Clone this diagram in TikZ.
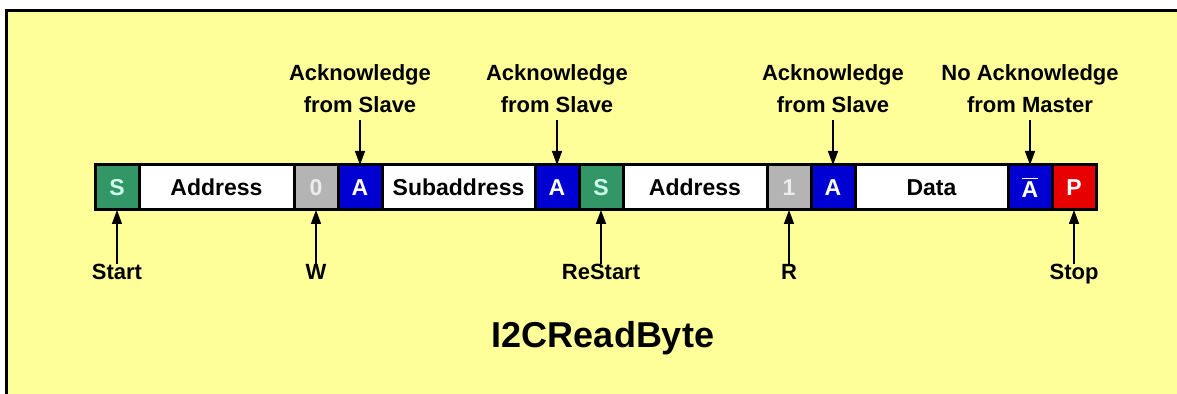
\documentclass[tikz,border=0pt]{standalone}
\usepackage{fontspec}
\setmainfont{Liberation Sans}
\usetikzlibrary{positioning, arrows.meta}
\definecolor{framebg}{RGB}{255,255,153}
\definecolor{startgreen}{RGB}{51,150,102}
\definecolor{mint}{RGB}{205,255,235}
\definecolor{ackblue}{RGB}{0,0,210}
\definecolor{stopred}{RGB}{230,0,0}
\definecolor{rwgray}{RGB}{180,180,180}

\begin{document}
\begin{tikzpicture}[
  x=0.5pt, y=-0.5pt,
  node distance=0pt,
  cell/.style={draw, line width=1.5pt, minimum height=22.5pt, inner sep=0pt, outer sep=0pt,
               font=\bfseries\fontsize{11.5}{12}\selectfont},
  bit/.style={cell, minimum width=22pt, text=white},
  field/.style={cell, fill=white, text=black},
  note/.style={inner sep=0pt, align=center, font=\bfseries\fontsize{11}{16}\selectfont},
  title/.style={font=\bfseries\fontsize{18}{20}\selectfont},
  arr/.style={-{Triangle[width=5pt,length=7pt]}, line width=0.75pt}
]
  \useasboundingbox (0,0) rectangle (1177,394);
  \clip (0,0) rectangle (1177,394);
  \fill[white] (0,0) rectangle (1177,394);
  \draw[fill=framebg, line width=1.5pt] (6,11) rectangle (1200,420);

  % the frame sequence
  \node[bit, fill=startgreen, text=mint, anchor=west] (s1) at (95,187.5) {S};
  \node[field, minimum width=77.5pt, right=of s1] (addr1) {Address};
  \node[bit, fill=rwgray, text=white!85!gray, right=of addr1] (w) {0};
  \node[bit, fill=ackblue, right=of w] (ack1) {A};
  \node[field, minimum width=76.5pt, right=of ack1] (subaddr) {Subaddress};
  \node[bit, fill=ackblue, right=of subaddr] (ack2) {A};
  \node[bit, fill=startgreen, text=mint, right=of ack2] (s2) {S};
  \node[field, minimum width=72pt, right=of s2] (addr2) {Address};
  \node[bit, fill=rwgray, text=white!85!gray, right=of addr2] (r) {1};
  \node[bit, fill=ackblue, right=of r] (ack3) {A};
  \node[field, minimum width=76.5pt, right=of ack3] (data) {Data};
  \node[bit, fill=ackblue, right=of data] (nack) {$\overline{\mbox{A}}$};
  \node[bit, fill=stopred, right=of nack] (stop) {P};

  % labels above
  \node[note, above=26pt of ack1] (lack1) {Acknowledge\\from Slave};
  \node[note, above=26pt of ack2] (lack2) {Acknowledge\\from Slave};
  \node[note, above=26pt of ack3] (lack3) {Acknowledge\\from Slave};
  \node[note, above=26pt of nack] (lnack) {No Acknowledge\\from Master};
  \foreach \l/\c in {lack1/ack1, lack2/ack2, lack3/ack3, lnack/nack}
    \draw[arr, shorten <=3.5pt] (\l) -- (\c);

  % labels below
  \node[note, below=27pt of s1] (lstart) {Start};
  \node[note, below=27pt of w] (lw) {W};
  \node[note, below=27pt of s2] (lrestart) {ReStart};
  \node[note, below=27pt of r] (lr) {R};
  \node[note, below=27pt of stop] (lstop) {Stop};
  \foreach \l/\c in {lstart/s1, lw/w, lrestart/s2, lr/r, lstop/stop}
    \draw[arr] (\l) -- (\c);

  \node[title] (name) at (603,338) {I2CReadByte};
\end{tikzpicture}
\end{document}
